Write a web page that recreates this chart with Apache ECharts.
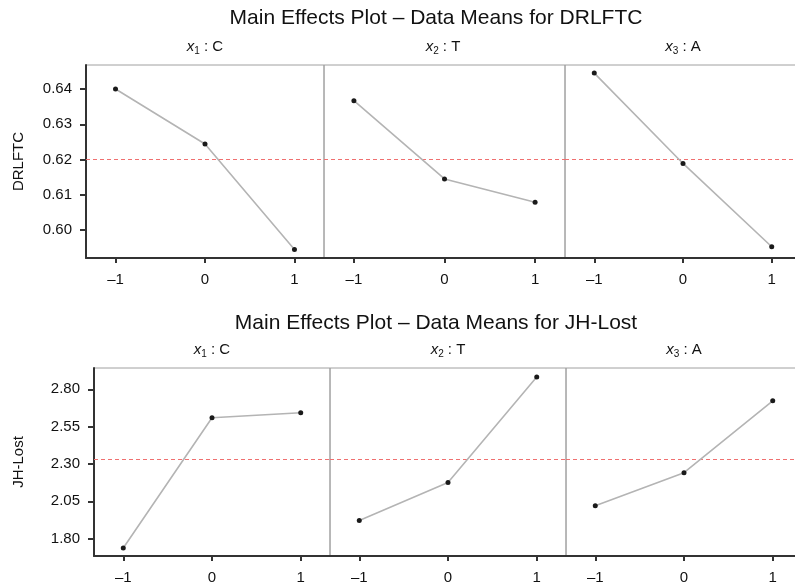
<!DOCTYPE html>
<html>
<head>
<meta charset="utf-8">
<script src="https://cdn.jsdelivr.net/npm/echarts@6/dist/echarts.min.js"></script>
<style>
html, body { margin: 0; padding: 0; background: #fff; overflow: hidden; }
#main { width: 810px; height: 585px; }
</style>
</head>
<body>
<div id="main"></div>
<script>
// levels of each factor
var levels = [-1, 0, 1];

// DRLFTC means per factor level
var drlC = [0.6400, 0.6244, 0.5945];
var drlT = [0.6367, 0.6145, 0.6079];
var drlA = [0.6445, 0.6189, 0.5953];
var drlMean = 0.6197;
var drlTicks = [0.60, 0.61, 0.62, 0.63, 0.64];

// JH-Lost means per factor level
var jhC = [1.738, 2.610, 2.643];
var jhT = [1.922, 2.176, 2.883];
var jhA = [2.021, 2.242, 2.723];
var jhMean = 2.329;
var jhTicks = [1.80, 2.05, 2.30, 2.55, 2.80];

var font = 'Liberation Sans, Arial, sans-serif';
var meanStyle = { type: [4, 3], color: '#f07070', width: 1 };

function pairs(vals) {
	return levels.map(function(l, i) { return [l, vals[i]]; });
}

function xAxis(idx) {
	return {
		type: 'value', gridIndex: idx, min: -1.33, max: 1.33,
		axisLine: { show: true, onZero: false, lineStyle: { color: '#333', width: 2 } },
		axisTick: { show: true, length: 5, customValues: levels, lineStyle: { color: '#333', width: 2 } },
		axisLabel: {
			customValues: levels, margin: 14, fontSize: 15, color: '#111', fontFamily: font,
			formatter: function(v) { return v < 0 ? '\u2013' + Math.abs(v) : String(v); }
		},
		splitLine: { show: false }
	};
}

function yAxis(idx, min, max, ticks, name, gap, first) {
	return {
		type: 'value', gridIndex: idx, min: min, max: max,
		name: first ? name : '', nameLocation: 'middle', nameGap: gap,
		nameTextStyle: { fontSize: 15, color: '#111', fontFamily: font },
		axisLine: { show: first, onZero: false, lineStyle: { color: '#333', width: 2 } },
		axisTick: { show: first, length: 6, customValues: ticks, lineStyle: { color: '#333', width: 2 } },
		axisLabel: {
			show: first, customValues: ticks, margin: 14, fontSize: 15, color: '#111', fontFamily: font,
			formatter: function(v) { return v.toFixed(2); }
		},
		splitLine: { show: false }
	};
}

function series(idx, vals, mean) {
	return {
		type: 'line', xAxisIndex: idx, yAxisIndex: idx, data: pairs(vals),
		symbol: 'circle', symbolSize: 5, silent: true,
		lineStyle: { color: '#b4b4b4', width: 1.6 },
		itemStyle: { color: '#1a1a1a' },
		markLine: {
			silent: true, symbol: 'none', label: { show: false }, z: 1,
			itemStyle: { color: meanStyle.color },
			lineStyle: meanStyle,
			emphasis: { disabled: true },
			data: [{ yAxis: mean, lineStyle: meanStyle, itemStyle: { color: meanStyle.color } }]
		}
	};
}

function sub(letter, n, x, y) {
	return {
		type: 'text', x: x, y: y,
		style: {
			text: '{i|x}{s|' + n + '}{n| : ' + letter + '}',
			align: 'center', verticalAlign: 'middle', fill: '#111',
			rich: {
				i: { fontStyle: 'italic', fontSize: 15, fontFamily: font },
				s: { fontSize: 10, fontFamily: font, padding: [9, 0, 0, 0] },
				n: { fontSize: 15, fontFamily: font }
			}
		}
	};
}

function title(txt, y) {
	return {
		type: 'text', x: 436, y: y,
		style: { text: txt, align: 'center', verticalAlign: 'middle', fontSize: 21, fontFamily: font, fill: '#111' }
	};
}

var gridStyle = { show: true, borderColor: '#a0a0a0', borderWidth: 1, backgroundColor: 'transparent' };
var grids = [
	{ left: 86, width: 238, top: 65, height: 193 },
	{ left: 324, width: 241, top: 65, height: 193 },
	{ left: 565, width: 236, top: 65, height: 193 },
	{ left: 94, width: 236, top: 368, height: 190 },
	{ left: 330, width: 236, top: 368, height: 190 },
	{ left: 566, width: 236, top: 368, height: 190 }
].map(function(g) { return Object.assign({}, gridStyle, g); });

var topMin = 0.5921, topMax = 0.6468, botMin = 1.684, botMax = 2.943;

var option = {
	animation: false,
	grid: grids,
	xAxis: [0, 1, 2, 3, 4, 5].map(xAxis),
	yAxis: [
		yAxis(0, topMin, topMax, drlTicks, 'DRLFTC', 60, true),
		yAxis(1, topMin, topMax, drlTicks, '', 0, false),
		yAxis(2, topMin, topMax, drlTicks, '', 0, false),
		yAxis(3, botMin, botMax, jhTicks, 'JH-Lost', 68, true),
		yAxis(4, botMin, botMax, jhTicks, '', 0, false),
		yAxis(5, botMin, botMax, jhTicks, '', 0, false)
	],
	series: [
		series(0, drlC, drlMean), series(1, drlT, drlMean), series(2, drlA, drlMean),
		series(3, jhC, jhMean), series(4, jhT, jhMean), series(5, jhA, jhMean)
	],
	graphic: [
		title('Main Effects Plot \u2013 Data Means for DRLFTC', 18),
		sub('C', 1, 205, 47), sub('T', 2, 443, 47), sub('A', 3, 683, 47),
		title('Main Effects Plot \u2013 Data Means for JH-Lost', 323),
		sub('C', 1, 212, 350), sub('T', 2, 448, 350), sub('A', 3, 684, 350)
	]
};

var myChart = echarts.init(document.getElementById('main'));
myChart.setOption(option);
</script>
</body>
</html>
